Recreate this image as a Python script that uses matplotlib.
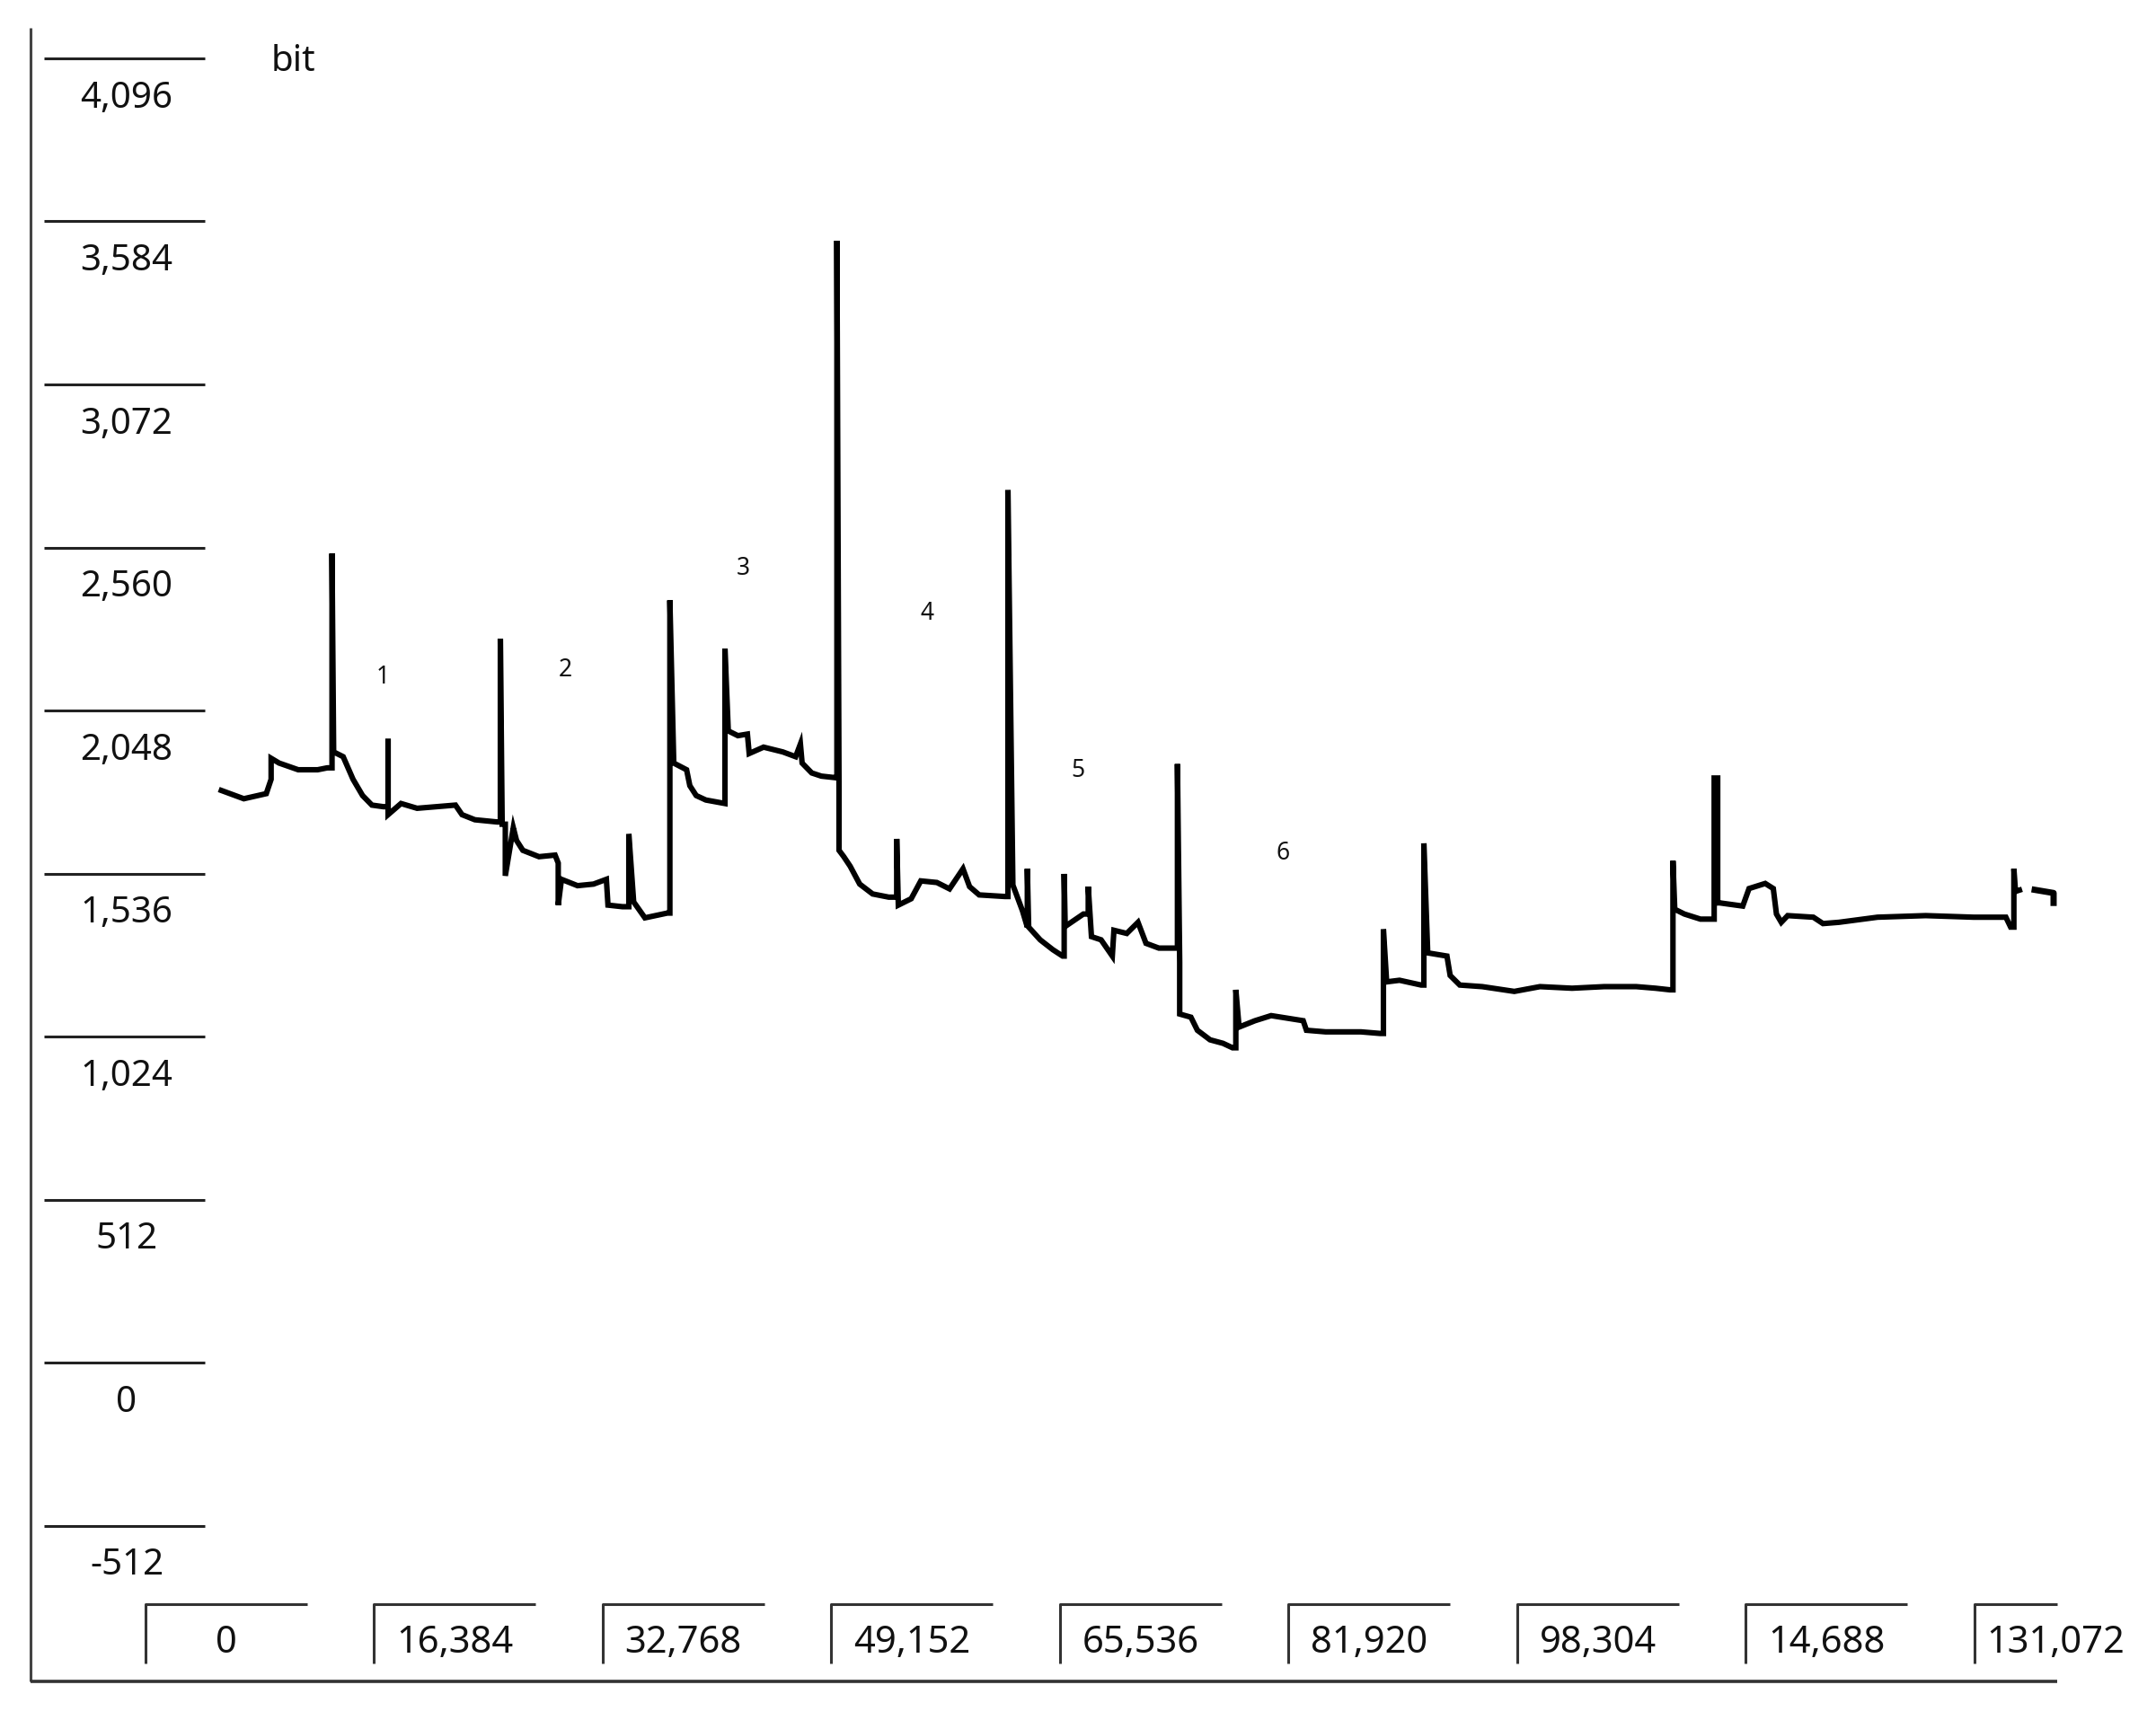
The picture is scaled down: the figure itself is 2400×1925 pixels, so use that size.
import matplotlib
matplotlib.use("Agg")
import matplotlib.pyplot as plt

plt.rcParams["font.family"] = ["Noto Sans", "DejaVu Sans"]

# y ticks (bit) and x ticks (sample index); the "14,688" label is as printed in the source
y_ticks = [4096, 3584, 3072, 2560, 2048, 1536, 1024, 512, 0, -512]
y_labels = ["4,096", "3,584", "3,072", "2,560", "2,048", "1,536", "1,024", "512", "0", "-512"]
x_ticks = [0, 16384, 32768, 49152, 65536, 81920, 98304, 114688, 131072]
x_labels = ["0", "16,384", "32,768", "49,152", "65,536", "81,920", "98,304", "14,688", "131,072"]

# trace: sample index vs bit value
trace_t = [
    5465, 7074, 8684, 9031, 9031, 9604, 10975, 12366, 13054, 13395, 13395, 13511,
    14194, 14901, 15584, 16253, 17077, 17412, 17412, 17412, 18339, 19491, 22240, 22710,
    23630, 25240, 25458, 25458, 25587, 25812, 25812, 26385, 26617, 27068, 28226, 29379,
    29604, 29604, 29836, 30987, 32134, 33054, 33169, 34206, 34663, 34663, 35010, 35816,
    37424, 37604, 37604, 37882, 38802, 39034, 39491, 40180, 41551, 41551, 41789, 42478,
    43160, 43288, 44319, 45696, 46617, 46958, 47080, 47769, 48457, 49494, 49573, 49573,
    49725, 49725, 50067, 50524, 51206, 52133, 53286, 53858, 53858, 53974, 54894, 55584,
    56735, 57643, 58608, 59079, 59768, 61610, 61827, 61827, 62182, 62529, 62870, 63218,
    63218, 63313, 64139, 65046, 65747, 65857, 65857, 65930, 67235, 67582, 67582, 67813,
    68503, 69307, 69423, 70344, 71148, 71721, 72642, 73903, 73974, 73974, 74135, 74135,
    74940, 75403, 76311, 77238, 77919, 78158, 78158, 78390, 79529, 80688, 82985, 83217,
    84595, 87124, 88502, 88734, 88734, 88965, 89887, 91438, 91631, 91631, 91908, 93286,
    93516, 94206, 95815, 98112, 99953, 102251, 104550, 106848, 108231, 109268, 109480, 109480,
    109609, 110298, 111450, 112358, 112434, 112434, 112685, 112685, 112828, 114482, 114933, 116092,
    116670, 116896, 117243, 117700, 119541, 120231, 121370, 124138, 127588, 131025, 133336, 133677,
    133909, 133909, 134025, 134307,
]
trace_bits = [
    1797, 1771, 1787, 1832, 1898, 1883, 1862, 1862, 1868, 1868, 2541, 1918,
    1903, 1832, 1781, 1751, 1746, 1746, 1959, 1721, 1756, 1741, 1751, 1721,
    1705, 1698, 1698, 2273, 1691, 1691, 1529, 1680, 1640, 1609, 1589, 1594,
    1569, 1437, 1518, 1498, 1503, 1518, 1437, 1432, 1432, 1660, 1447, 1397,
    1412, 1412, 2394, 1883, 1862, 1812, 1781, 1767, 1756, 2242, 1984, 1969,
    1974, 1913, 1933, 1918, 1903, 1943, 1883, 1852, 1842, 1837, 1837, 3523,
    1792, 1609, 1589, 1559, 1503, 1472, 1462, 1462, 1645, 1437, 1457, 1513,
    1508, 1488, 1551, 1495, 1469, 1464, 1464, 2740, 1500, 1459, 1419, 1368,
    1551, 1368, 1328, 1297, 1277, 1277, 1535, 1370, 1409, 1409, 1495, 1338,
    1328, 1277, 1358, 1348, 1383, 1317, 1302, 1302, 1302, 1880, 1257, 1095,
    1085, 1044, 1014, 1003, 989, 989, 1171, 1054, 1074, 1090, 1074, 1044,
    1039, 1039, 1034, 1034, 1361, 1196, 1201, 1186, 1186, 1631, 1287, 1277,
    1216, 1186, 1181, 1166, 1181, 1176, 1181, 1181, 1176, 1171, 1171, 1576,
    1424, 1409, 1393, 1393, 1393, 1836, 1836, 1444, 1444, 1434, 1489, 1505,
    1489, 1409, 1383, 1404, 1399, 1379, 1383, 1399, 1404, 1399, 1399, 1368,
    1368, 1551, 1480, 1484,
]
tail_t = [135403, 136754, 136754]
tail_bits = [1485, 1475, 1444]

# segment markers 1..6
seg_names = ["1", "2", "3", "4", "5", "6"]
seg_t = [17025, 30106, 42890, 56047, 66848, 81525]
seg_bits = [2153, 2176, 2493, 2354, 1858, 1600]

# layout (data units of the single full-figure axes)
T_LEFT, T_RIGHT = -10396, 144093
V_BOTTOM, V_TOP = -1150, 4279
AXIS_T = -8208
AXIS_TOP = 4191
BASE_V = -1000
YTICK_T0, YTICK_T1 = -7241, 4281
YLABEL_T = -1320
YLABEL_DROP = 126
BOX_W = 11587
BOX_TOP, BOX_BOTTOM, XLABEL_V = -758, -944, -879
T_END = 137000

fig = plt.figure(figsize=(24, 19.25), dpi=100)
ax = fig.add_axes([0, 0, 1, 1])
ax.set_xlim(T_LEFT, T_RIGHT)
ax.set_ylim(V_BOTTOM, V_TOP)
ax.axis("off")

# frame: left axis line and base line
ax.plot([AXIS_T, AXIS_T], [BASE_V, AXIS_TOP], color="#444444", lw=2.2, solid_capstyle="butt")
ax.plot([AXIS_T, T_END], [BASE_V, BASE_V], color="#333333", lw=2.6, solid_capstyle="butt")

# y ticks drawn as bars with the value underneath
for v, lab in zip(y_ticks, y_labels):
    ax.plot([YTICK_T0, YTICK_T1], [v, v], color="#222222", lw=2.2, solid_capstyle="butt")
    ax.text(YLABEL_T, v - YLABEL_DROP, lab, ha="center", va="center",
            fontsize=29, color="#111111")

# x ticks drawn as bracket boxes with the value inside
for t, lab in zip(x_ticks, x_labels):
    right = min(t + BOX_W, T_END)
    ax.plot([t, t, right], [BOX_BOTTOM, BOX_TOP, BOX_TOP], color="#333333", lw=2.2,
            solid_capstyle="butt")
    ax.text(t + BOX_W / 2, XLABEL_V, lab, ha="center", va="center",
            fontsize=30, color="#111111")

ax.text(10589, 4085, "bit", ha="center", va="center", fontsize=29, color="#111111")

# trace
ax.plot(trace_t, trace_bits, color="black", lw=4.4, solid_joinstyle="miter")
ax.plot(tail_t, tail_bits, color="black", lw=5.0)

for name, t, v in zip(seg_names, seg_t, seg_bits):
    ax.text(t, v, name, ha="center", va="center", fontsize=19, color="#111111")

fig.savefig("out.png", dpi=100, facecolor="white")
